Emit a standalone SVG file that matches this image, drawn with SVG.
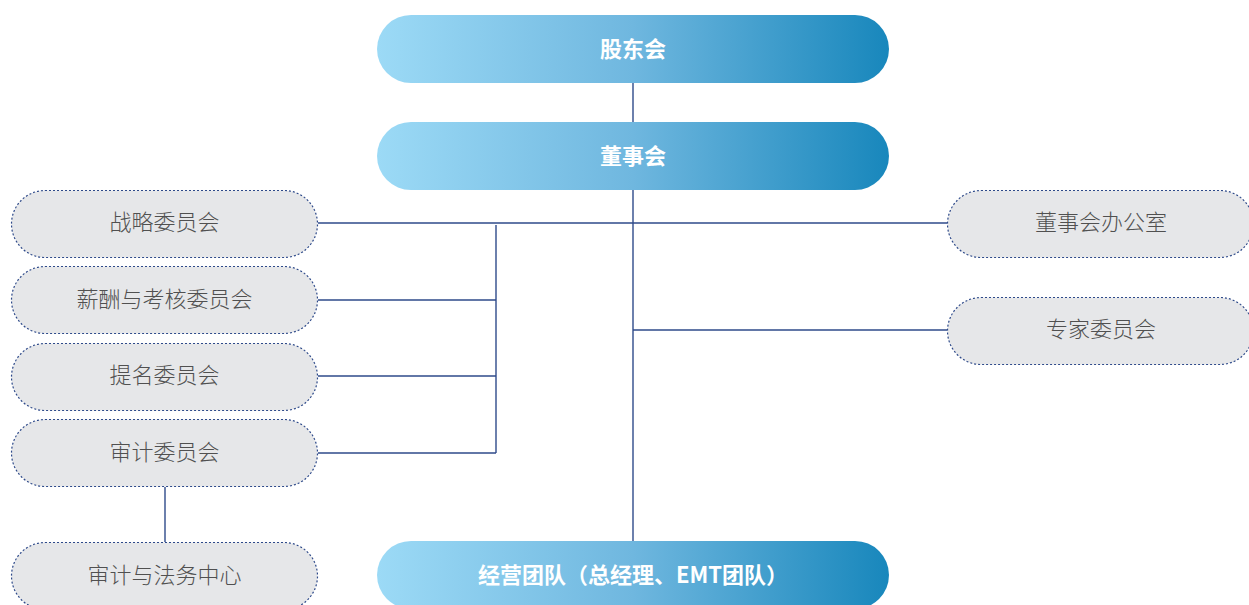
<svg xmlns="http://www.w3.org/2000/svg" width="1249" height="605" viewBox="0 0 1249 605">
<defs>
<linearGradient id="g" x1="0" y1="0" x2="1" y2="0">
<stop offset="0" stop-color="#9cdaf6"/>
<stop offset="0.5" stop-color="#6fb7df"/>
<stop offset="1" stop-color="#1887bc"/>
</linearGradient>
<style>
.main rect{fill:url(#g);}
.main text{fill:#fff;font-family:"Noto Sans CJK SC","Noto Sans",sans-serif;font-size:22px;font-weight:bold;text-anchor:middle;dominant-baseline:central;}
.sub rect{fill:#e6e7e9;stroke:#2e4a8a;stroke-width:1.2;stroke-dasharray:2 2;}
.sub text{fill:#505050;font-family:"Noto Sans CJK SC","Noto Sans",sans-serif;font-size:22px;font-weight:300;text-anchor:middle;dominant-baseline:central;}
.conn path{fill:none;stroke:#2e4a8a;stroke-width:1.4;}
</style>
</defs>
<rect width="1249" height="605" fill="#fff"/>
<g class="conn">
<path d="M633 83V122"/>
<path d="M633 190V541"/>
<path d="M318 223H947"/>
<path d="M496 225V453"/>
<path d="M318 300H496"/>
<path d="M318 376H496"/>
<path d="M318 453H496"/>
<path d="M633 330H947"/>
<path d="M165 487V542"/>
</g>
<g id="gudonghui" class="main"><rect x="377" y="15" width="512" height="68" rx="34"/><text x="633" y="47">股东会</text></g>
<g id="dongshihui" class="main"><rect x="377" y="122" width="512" height="68" rx="34"/><text x="633" y="154">董事会</text></g>
<g id="jingying" class="main"><rect x="377" y="541" width="512" height="68" rx="34"/><text x="633" y="573">经营团队（总经理、EMT团队）</text></g>
<g id="zhanlue" class="sub"><rect x="11.5" y="190.5" width="306" height="67" rx="33.5"/><text x="164.5" y="220">战略委员会</text></g>
<g id="xinchou" class="sub"><rect x="11.5" y="266.5" width="306" height="67" rx="33.5"/><text x="164.5" y="297">薪酬与考核委员会</text></g>
<g id="timing" class="sub"><rect x="11.5" y="343.5" width="306" height="67" rx="33.5"/><text x="164.5" y="373">提名委员会</text></g>
<g id="shenji" class="sub"><rect x="11.5" y="419.5" width="306" height="67" rx="33.5"/><text x="164.5" y="450">审计委员会</text></g>
<g id="fawu" class="sub"><rect x="11.5" y="542.5" width="306" height="67" rx="33.5"/><text x="164.5" y="573">审计与法务中心</text></g>
<g id="dongban" class="sub"><rect x="947.5" y="190.5" width="306" height="67" rx="33.5"/><text x="1101" y="220">董事会办公室</text></g>
<g id="zhuanjia" class="sub"><rect x="947.5" y="297.5" width="306" height="67" rx="33.5"/><text x="1101" y="327">专家委员会</text></g>
</svg>
